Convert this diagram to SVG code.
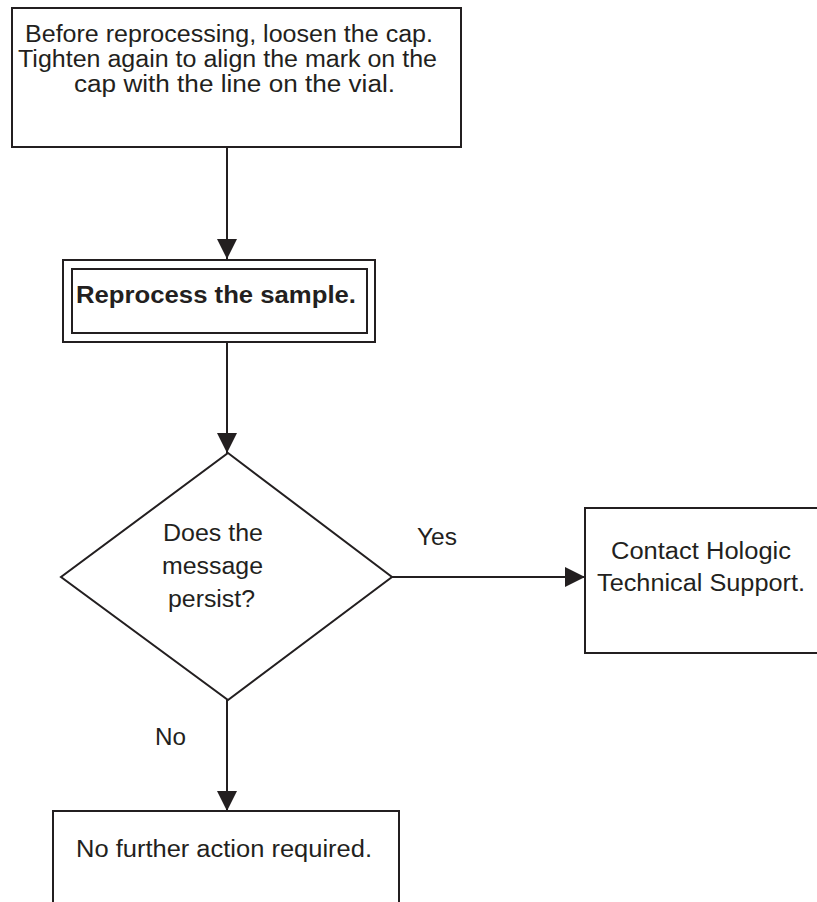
<svg xmlns="http://www.w3.org/2000/svg" width="817" height="902" viewBox="0 0 817 902">
<style>
.box{fill:#fff;stroke:#231f20;stroke-width:2}
.t{font-family:"Liberation Sans",Arial,sans-serif;font-size:23px;fill:#231f20}
.b{font-weight:bold}
.c{stroke:#231f20;stroke-width:2;fill:none}
</style>
<defs>
<marker id="ah" markerUnits="userSpaceOnUse" markerWidth="22" markerHeight="22" refX="20" refY="10" orient="auto">
<path d="M0,0 L20,10 L0,20 z" fill="#231f20"/>
</marker>
</defs>
<rect width="817" height="902" fill="#fff"/>
<g id="connectors">
<line class="c" x1="227" y1="147" x2="227" y2="259" marker-end="url(#ah)"/>
<line class="c" x1="227" y1="342" x2="227" y2="453" marker-end="url(#ah)"/>
<line class="c" x1="392" y1="577" x2="585" y2="577" marker-end="url(#ah)"/>
<line class="c" x1="227" y1="700" x2="227" y2="811" marker-end="url(#ah)"/>
<text class="t" x="417" y="545" textLength="40" lengthAdjust="spacingAndGlyphs">Yes</text>
<text class="t" x="155" y="745" textLength="31" lengthAdjust="spacingAndGlyphs">No</text>
</g>
<g id="n1">
<rect class="box" x="12" y="8" width="449" height="139"/>
<text class="t" x="25" y="42" textLength="408" lengthAdjust="spacingAndGlyphs">Before reprocessing, loosen the cap.</text>
<text class="t" x="18" y="67" textLength="419" lengthAdjust="spacingAndGlyphs">Tighten again to align the mark on the</text>
<text class="t" x="74" y="92" textLength="321" lengthAdjust="spacingAndGlyphs">cap with the line on the vial.</text>
</g>
<g id="n2">
<rect class="box" x="63" y="260" width="312" height="82"/>
<rect class="box" x="72" y="269" width="295" height="64"/>
<text class="t b" x="76" y="303" textLength="280" lengthAdjust="spacingAndGlyphs">Reprocess the sample.</text>
</g>
<g id="n3">
<polygon class="box" points="228,453 392,577 228,700 61,577"/>
<text class="t" x="163" y="541" textLength="100" lengthAdjust="spacingAndGlyphs">Does the</text>
<text class="t" x="162" y="574" textLength="101" lengthAdjust="spacingAndGlyphs">message</text>
<text class="t" x="168" y="607" textLength="87" lengthAdjust="spacingAndGlyphs">persist?</text>
</g>
<g id="n4">
<rect class="box" x="585" y="508" width="260" height="145"/>
<text class="t" x="611" y="559" textLength="180" lengthAdjust="spacingAndGlyphs">Contact Hologic</text>
<text class="t" x="597" y="591" textLength="208" lengthAdjust="spacingAndGlyphs">Technical Support.</text>
</g>
<g id="n5">
<rect class="box" x="53" y="811" width="346" height="130"/>
<text class="t" x="76" y="857" textLength="296" lengthAdjust="spacingAndGlyphs">No further action required.</text>
</g>
</svg>
